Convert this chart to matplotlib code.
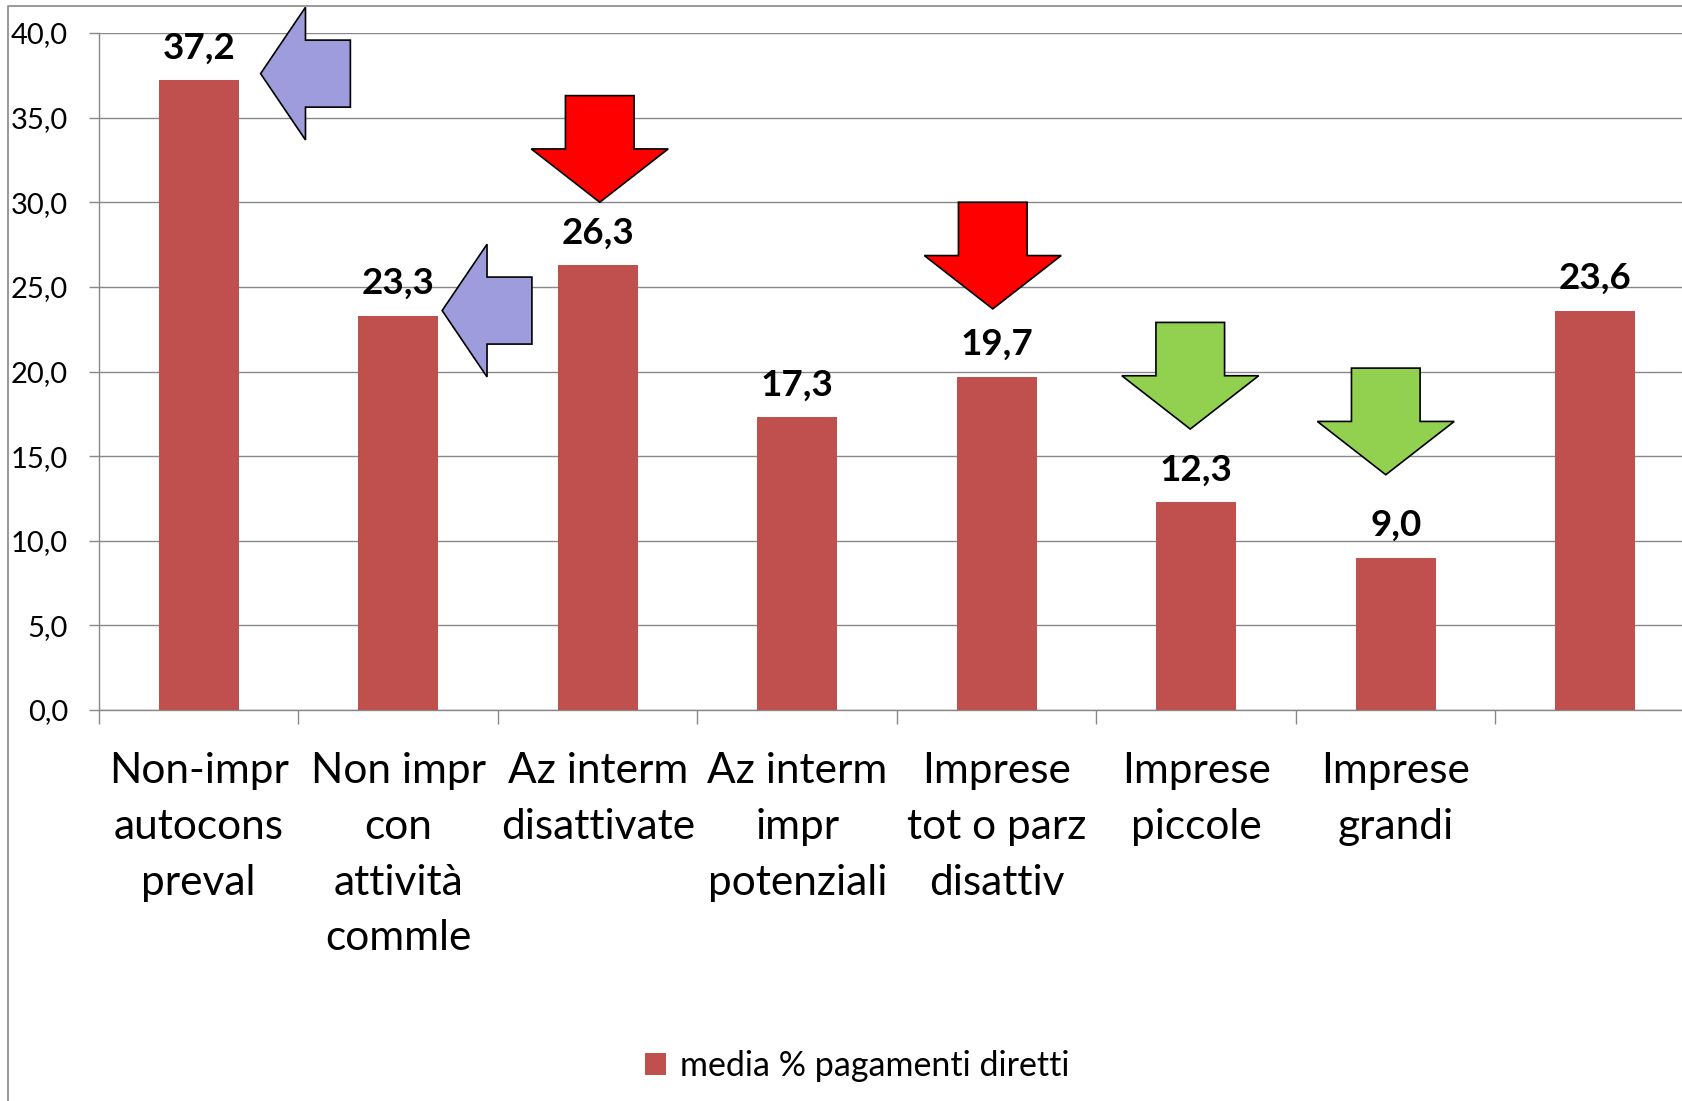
import matplotlib
matplotlib.use("Agg")
import matplotlib.pyplot as plt
from matplotlib.patches import Polygon
from matplotlib.lines import Line2D
import numpy as np

# ---------------- data ----------------
categories = [
    "Non-impr\nautocons\npreval",
    "Non impr\ncon\nattività\ncommle",
    "Az interm\ndisattivate",
    "Az interm\nimpr\npotenziali",
    "Imprese\ntot o parz\ndisattiv",
    "Imprese\npiccole",
    "Imprese\ngrandi",
    "",
]
values = [37.2, 23.3, 26.3, 17.3, 19.7, 12.3, 9.0, 23.6]
series_name = "media % pagamenti diretti"
y_ticks = [0, 5, 10, 15, 20, 25, 30, 35, 40]

# decorative arrows (data coordinates)
down_arrow_x = [2.01, 3.98, 4.97, 5.95]
down_arrow_top = [36.3, 30.0, 22.9, 20.2]
down_arrow_tip = [30.0, 23.7, 16.6, 13.9]
down_arrow_colors = ["#FF0000", "#FF0000", "#92D050", "#92D050"]
left_arrow_tip_x = [0.31, 1.22]
left_arrow_tail_x = [0.76, 1.67]
left_arrow_y = [37.6, 23.6]
left_arrow_color = "#9E9CDC"

# ---------------- style ----------------
plt.rcParams["font.family"] = ["Lato", "DejaVu Sans"]
BAR_COLOR = "#C0504D"
GRID = "#888888"

W, H = 1683, 1101
fig = plt.figure(figsize=(W / 100, H / 100), dpi=100)
ax = fig.add_axes([99 / W, 1 - 710 / H, 1596 / W, 677 / H])

x = np.arange(len(values))
bars = ax.bar(x, values, width=0.4, color=BAR_COLOR, zorder=3, label=series_name)

ax.set_xlim(-0.5, len(values) - 0.5)
ax.set_ylim(0, 40)

# y axis
ax.set_yticks(y_ticks)
ax.set_yticklabels([f"{v:.1f}".replace(".", ",") for v in y_ticks], fontsize=21)
ax.tick_params(axis="y", length=7.2, width=1.0, color=GRID, pad=15, direction="out")
ax.yaxis.grid(True, color=GRID, linewidth=1.0, zorder=0)
ax.set_axisbelow(True)

# x axis
ax.set_xticks(x)
ax.set_xticklabels(categories, fontsize=30.5, linespacing=1.57)
ax.tick_params(axis="x", which="major", length=0, pad=30.5)
ax.set_xticks(np.arange(-0.5, len(values)), minor=True)
ax.tick_params(axis="x", which="minor", length=10, width=1.0, color=GRID, direction="out")

for s in ["top", "right"]:
    ax.spines[s].set_visible(False)
for s in ["left", "bottom"]:
    ax.spines[s].set_color(GRID)
    ax.spines[s].set_linewidth(1.0)

# data labels
for xi, v in zip(x, values):
    ax.annotate(f"{v:.1f}".replace(".", ","), (xi, v), xytext=(0, 15.5),
                textcoords="offset points", ha="center", va="baseline",
                fontsize=26.5, fontweight="bold", zorder=5)

# arrows
SHAFT_HW, HEAD_HW = 0.172, 0.343
for cx, top, tip, col in zip(down_arrow_x, down_arrow_top, down_arrow_tip, down_arrow_colors):
    base = (top + tip) / 2
    pts = [(cx - SHAFT_HW, top), (cx + SHAFT_HW, top), (cx + SHAFT_HW, base),
           (cx + HEAD_HW, base), (cx, tip), (cx - HEAD_HW, base), (cx - SHAFT_HW, base)]
    ax.add_patch(Polygon(pts, closed=True, facecolor=col, edgecolor="black",
                         linewidth=1.2, clip_on=False, zorder=6))

SHAFT_HH, HEAD_HH = 1.98, 3.92
for tx, tail, cy in zip(left_arrow_tip_x, left_arrow_tail_x, left_arrow_y):
    base = (tx + tail) / 2
    pts = [(tx, cy), (base, cy + HEAD_HH), (base, cy + SHAFT_HH), (tail, cy + SHAFT_HH),
           (tail, cy - SHAFT_HH), (base, cy - SHAFT_HH), (base, cy - HEAD_HH)]
    ax.add_patch(Polygon(pts, closed=True, facecolor=left_arrow_color, edgecolor="black",
                         linewidth=1.2, clip_on=False, zorder=6))

# legend
fig.legend(handles=[bars], labels=[series_name], loc="center",
           bbox_to_anchor=(857.5 / W, 1 - 1066 / H), frameon=False,
           fontsize=24.5, handlelength=0.62, handleheight=0.62, handletextpad=0.4)

# chart area border (partially cropped)
bx, by = 8 / W, 1 - 6 / H
fig.add_artist(Line2D([bx, bx, 1.0], [0.0, by, by], transform=fig.transFigure,
                      color=GRID, linewidth=1.2))

fig.savefig("out.png", dpi=100)
